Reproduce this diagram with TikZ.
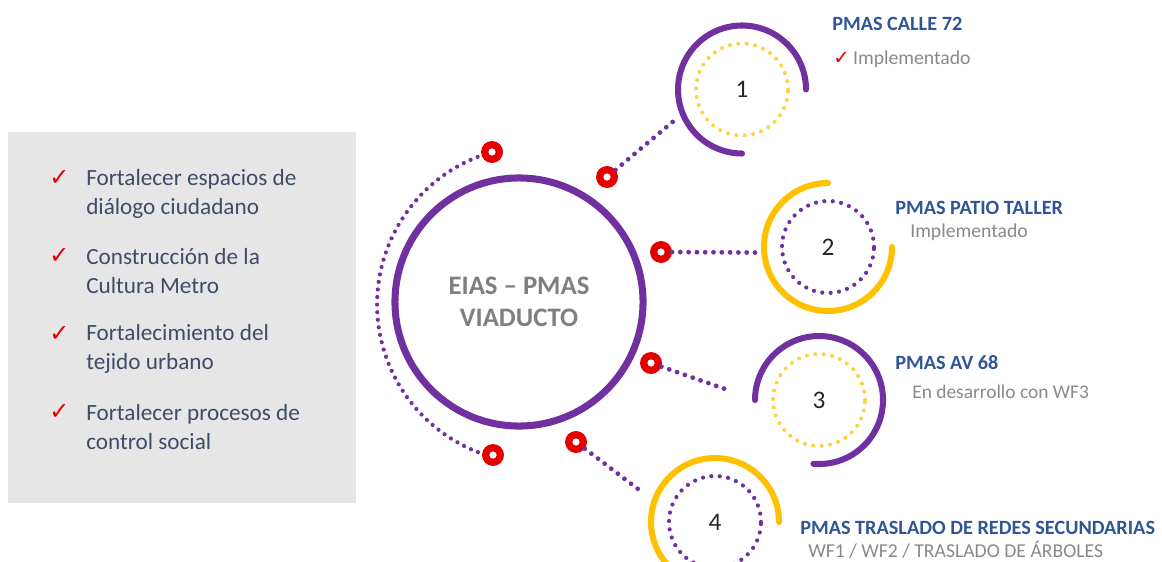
\documentclass[tikz,border=0pt]{standalone}
\usepackage{fontspec}
\setmainfont{Carlito}
\newfontfamily\symfont{DejaVu Sans}
\usepackage{tikz}
\usetikzlibrary{positioning, backgrounds}
\definecolor{metroPurple}{RGB}{112, 48, 160}
\definecolor{metroYellow}{RGB}{255, 192, 0}
\definecolor{dotYellow}{RGB}{255, 210, 70}
\definecolor{metroRed}{RGB}{228, 0, 0}
\definecolor{titleBlue}{RGB}{47, 85, 151}
\definecolor{listSlate}{RGB}{62, 76, 104}
\definecolor{boxGray}{RGB}{231, 230, 230}
\definecolor{hubGray}{RGB}{127, 127, 127}
\definecolor{stateGray}{RGB}{137, 137, 137}
\definecolor{numGray}{RGB}{38, 38, 38}

\begin{document}
\begin{tikzpicture}[x=0.025cm, y=0.025cm,
  reddot/.style={circle, fill=metroRed, minimum size=0.55cm, inner sep=0pt, outer sep=0pt,
                 path picture={\fill[white] (path picture bounding box.center) circle[radius=0.09cm];}},
  ring/.style={circle, minimum size=3.2cm, inner sep=0pt, outer sep=0pt,
               font=\fontsize{18}{20}\selectfont, text=numGray},
  link/.style={draw=metroPurple, line width=3.4pt, line cap=round, dash pattern=on 0pt off 5.9pt},
  pdots/.style={draw=metroPurple, line width=3pt, line cap=round, dash pattern=on 0pt off 6pt},
  ydots/.style={draw=dotYellow, line width=2.9pt, line cap=round, dash pattern=on 0pt off 6pt},
  parc/.style={draw=metroPurple, line width=4.3pt, line cap=round},
  yarc/.style={draw=metroYellow, line width=4.3pt, line cap=round},
  ptitle/.style={anchor=west, inner sep=0pt, text=titleBlue, font=\fontsize{14.4}{17}\selectfont\bfseries},
  pstate/.style={anchor=west, inner sep=0pt, text=stateGray, font=\fontsize{14}{16}\selectfont},
  goal/.style={anchor=west, inner sep=0pt, align=left, text=listSlate, font=\fontsize{16.5}{20.6}\selectfont},
  chkmark/.style={inner sep=0pt, text=metroRed, font=\fontsize{17}{19}\symfont},
]
  \useasboundingbox (0,0) rectangle (1162,561);
  \clip (0,0) rectangle (1162,561);

  % Left panel: goals
  \fill[boxGray] (8,58) rectangle (356,429);
  \node[chkmark] (k1) at (59.5,383) {✓};
  \node[goal] (g1) at (86,367.5) {Fortalecer espacios de\\diálogo ciudadano};
  \node[chkmark] (k2) at (59.5,305) {✓};
  \node[goal] (g2) at (86,290) {Construcción de la\\Cultura Metro};
  \node[chkmark] (k3) at (59.5,227) {✓};
  \node[goal] (g3) at (86,212) {Fortalecimiento del\\tejido urbano};
  \node[chkmark] (k4) at (59.5,149) {✓};
  \node[goal] (g4) at (86,133.5) {Fortalecer procesos de\\control social};

  % Hub circle
  \node[circle, draw=metroPurple, line width=5pt, minimum size=6.2cm, inner sep=0pt,
        align=center, text=hubGray, font=\fontsize{19}{22.8}\selectfont\bfseries]
        (hub) at (519,259) {EIAS – PMAS\\VIADUCTO};

  % Red dots round the hub
  \node[reddot] (d1) at (492,409) {};
  \node[reddot] (d2) at (607,384) {};
  \node[reddot] (d3) at (661,309) {};
  \node[reddot] (d4) at (651,198) {};
  \node[reddot] (d5) at (576,119) {};
  \node[reddot] (d6) at (493,106) {};
  \begin{scope}[on background layer]
    \draw[pdots, dash pattern=on 0pt off 5.4pt] (d1) arc[start angle=106, end angle=254, radius=158.6];
  \end{scope}

  % Plan rings
  \node[ring] (c1) at (742,471.5) {1};
  \node[ring] (c2) at (828,314) {2};
  \node[ring] (c3) at (819,161) {3};
  \node[ring] (c4) at (715,39) {4};

  \draw[parc] (c1.0) arc[start angle=0, end angle=270, radius=64];
  \draw[ydots] (c1) circle[radius=46];
  \draw[yarc] (c2.90) arc[start angle=90, end angle=360, radius=64];
  \draw[pdots] (c2) circle[radius=46];
  \draw[parc] (c3.265) arc[start angle=-95, end angle=180, radius=64];
  \draw[ydots] (c3) circle[radius=46];
  \draw[yarc] (c4.0) arc[start angle=0, end angle=250, radius=64];
  \draw[pdots] (c4) circle[radius=46];

  % Connectors
  \coordinate (e3) at (728,171);
  \coordinate (e4) at (642,69);
  \draw[link, shorten >=5pt] (d2) -- (c1.202);
  \draw[link, shorten >=5pt] (d3) -- (c2.185);
  \draw[link] (d4) -- (e3);
  \draw[link] (d5) -- (e4);

  % Plan labels
  \node[ptitle] (t1) at (832,537) {PMAS CALLE 72};
  \node[pstate] (s1) at (833,502) {{\symfont\fontsize{14}{15}\selectfont\color{metroRed}✓}\,Implementado};
  \node[ptitle] (t2) at (895,353) {PMAS PATIO TALLER};
  \node[pstate] (s2) at (910,329) {Implementado};
  \node[ptitle] (t3) at (895,198) {PMAS AV 68};
  \node[pstate, font=\fontsize{13.8}{16}\selectfont] (s3) at (912,169) {En desarrollo con WF3};
  \node[ptitle] (t4) at (800,33) {PMAS TRASLADO DE REDES SECUNDARIAS};
  \node[pstate] (s4) at (808,11) {WF1 / WF2 / TRASLADO DE ÁRBOLES};
\end{tikzpicture}
\end{document}
